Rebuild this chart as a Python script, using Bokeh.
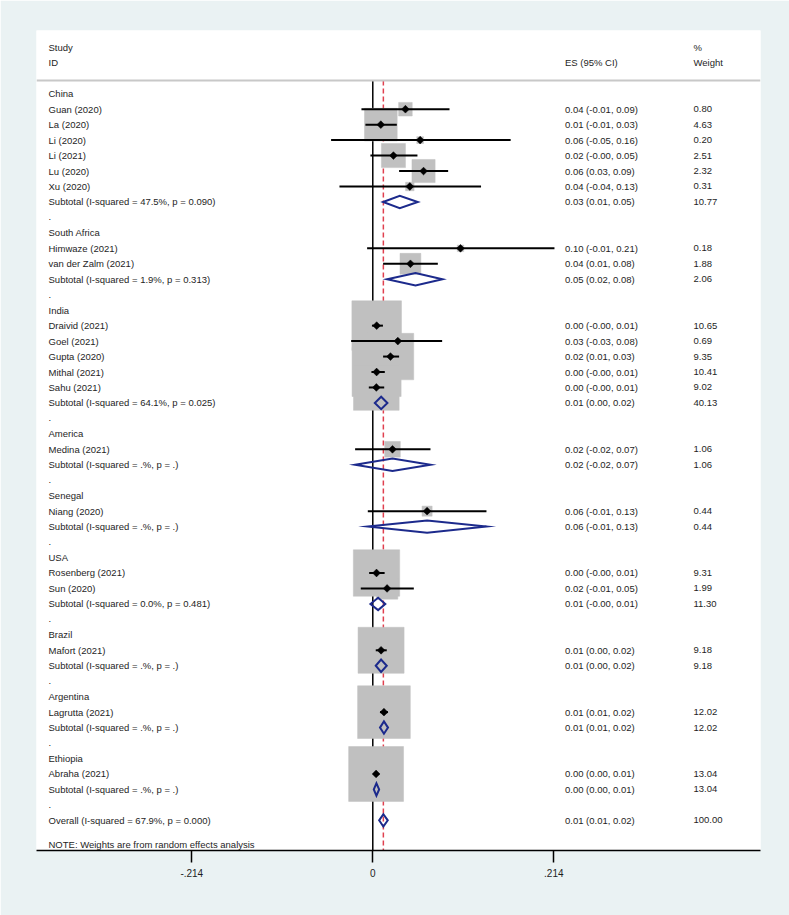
import numpy as np
from bokeh.plotting import figure
from bokeh.models import Range1d, FixedTicker, ColumnDataSource, Span
from bokeh.core.properties import value
from bokeh.embed import file_html
from bokeh.resources import INLINE

FONT = "Liberation Sans"

# ---------------- data ----------------
group_names = ["China", "South Africa", "India", "America", "Senegal",
               "USA", "Brazil", "Argentina", "Ethiopia"]
group_sizes = [6, 2, 5, 1, 1, 2, 1, 1, 1]

study_names = ["Guan (2020)", "La (2020)", "Li (2020)", "Li (2021)", "Lu (2020)", "Xu  (2020)",
               "Himwaze (2021)", "van der Zalm (2021)",
               "Draivid (2021)", "Goel (2021)", "Gupta (2020)", "Mithal (2021)", "Sahu (2021)",
               "Medina (2021)",
               "Niang (2020)",
               "Rosenberg (2021)", "Sun (2020)",
               "Mafort (2021)",
               "Lagrutta (2021)",
               "Abraha (2021)"]
study_es = [0.0386, 0.0095, 0.0560, 0.0244, 0.0600, 0.0438,
            0.1037, 0.0445,
            0.0046, 0.0296, 0.0209, 0.0045, 0.0042,
            0.0233,
            0.0642,
            0.0044, 0.0169,
            0.0098,
            0.0132,
            0.0039]
study_lo = [-0.0134, -0.0087, -0.0493, -0.0028, 0.0311, -0.0394,
            -0.0067, 0.0122,
            -0.0010, -0.0256, 0.0122, -0.0016, -0.0047,
            -0.0209,
            -0.0059,
            -0.0043, -0.0142,
            0.0035,
            0.0085,
            0.0012]
study_hi = [0.0907, 0.0284, 0.1630, 0.0528, 0.0891, 0.1280,
            0.2148, 0.0769,
            0.0120, 0.0820, 0.0311, 0.0142, 0.0135,
            0.0682,
            0.1344,
            0.0140, 0.0485,
            0.0165,
            0.0180,
            0.0075]
study_weight = [0.80, 4.63, 0.20, 2.51, 2.32, 0.31,
                0.18, 1.88,
                10.65, 0.69, 9.35, 10.41, 9.02,
                1.06,
                0.44,
                9.31, 1.99,
                9.18,
                12.02,
                13.04]
study_ci_text = ["0.04 (-0.01, 0.09)", "0.01 (-0.01, 0.03)", "0.06 (-0.05, 0.16)",
                 "0.02 (-0.00, 0.05)", "0.06 (0.03, 0.09)", "0.04 (-0.04, 0.13)",
                 "0.10 (-0.01, 0.21)", "0.04 (0.01, 0.08)",
                 "0.00 (-0.00, 0.01)", "0.03 (-0.03, 0.08)", "0.02 (0.01, 0.03)",
                 "0.00 (-0.00, 0.01)", "0.00 (-0.00, 0.01)",
                 "0.02 (-0.02, 0.07)",
                 "0.06 (-0.01, 0.13)",
                 "0.00 (-0.00, 0.01)", "0.02 (-0.01, 0.05)",
                 "0.01 (0.00, 0.02)",
                 "0.01 (0.01, 0.02)",
                 "0.00 (0.00, 0.01)"]

subtotal_het = ["I-squared = 47.5%, p = 0.090", "I-squared = 1.9%, p = 0.313",
                "I-squared = 64.1%, p = 0.025", "I-squared = .%, p = .",
                "I-squared = .%, p = .", "I-squared = 0.0%, p = 0.481",
                "I-squared = .%, p = .", "I-squared = .%, p = .", "I-squared = .%, p = ."]
subtotal_es = [0.0319, 0.0505, 0.0099, 0.0233, 0.0642, 0.0063, 0.0098, 0.0132, 0.0043]
subtotal_lo = [0.0122, 0.0170, 0.0024, -0.0209, -0.0059, -0.0028, 0.0035, 0.0085, 0.0012]
subtotal_hi = [0.0532, 0.0824, 0.0173, 0.0682, 0.1344, 0.0148, 0.0165, 0.0180, 0.0075]
subtotal_weight = [10.77, 2.06, 40.13, 1.06, 0.44, 11.30, 9.18, 12.02, 13.04]
subtotal_ci_text = ["0.03 (0.01, 0.05)", "0.05 (0.02, 0.08)", "0.01 (0.00, 0.02)",
                    "0.02 (-0.02, 0.07)", "0.06 (-0.01, 0.13)", "0.01 (-0.00, 0.01)",
                    "0.01 (0.00, 0.02)", "0.01 (0.01, 0.02)", "0.00 (0.00, 0.01)"]

overall_het = "I-squared = 67.9%, p = 0.000"
overall_es = 0.0125
overall_lo = 0.0075
overall_hi = 0.0177
overall_weight = 100.00
overall_ci_text = "0.01 (0.01, 0.02)"

x_ticks = [-0.214, 0, 0.214]
x_tick_labels = ["-.214", "0", ".214"]

note_text = "NOTE: Weights are from random effects analysis"

# ---------------- layout (rows) ----------------
BG = "#EAF2F3"
TXT = "#1E1E1E"
X_LABEL, X_ES, X_WT = -0.3834, 0.2272, 0.3792

lab_y, lab_t, es_y, es_t, wt_y, wt_t = [], [], [], [], [], []
st_y, sub_y = [], []
row, k = 0, 0
for gi, (gname, gsize) in enumerate(zip(group_names, group_sizes)):
    lab_y.append(row); lab_t.append(gname)
    for j in range(gsize):
        r = row + 1 + j
        st_y.append(r)
        lab_y.append(r); lab_t.append(study_names[k])
        es_y.append(r); es_t.append(study_ci_text[k])
        wt_y.append(r); wt_t.append(f"{study_weight[k]:.2f}")
        k += 1
    r = row + gsize + 1
    sub_y.append(r)
    lab_y.append(r); lab_t.append(f"Subtotal  ({subtotal_het[gi]})")
    es_y.append(r); es_t.append(subtotal_ci_text[gi])
    wt_y.append(r); wt_t.append(f"{subtotal_weight[gi]:.2f}")
    lab_y.append(r + 1); lab_t.append(".")
    row += gsize + 3
ov_y = row
lab_y.append(ov_y); lab_t.append(f"Overall  ({overall_het})")
es_y.append(ov_y); es_t.append(overall_ci_text)
wt_y.append(ov_y); wt_t.append(f"{overall_weight:.2f}")

Y_TOP, Y_BOT = -4.09, 48.95
SEP = -0.85

p = figure(width=789, height=915, output_backend="svg", toolbar_location=None,
           x_range=Range1d(-0.3976, 0.4584), y_range=Range1d(Y_BOT, Y_TOP),
           y_axis_location=None,
           min_border_left=36, min_border_right=29, min_border_top=30, min_border_bottom=65)
p.background_fill_color = "white"
p.border_fill_color = BG
p.outline_line_color = None
p.xgrid.visible = False
p.ygrid.visible = False

# header separator
p.add_layout(Span(location=SEP, dimension="width", line_color="#C8C8C8", line_width=2))

# null line and overall line
p.segment(x0=[0], y0=[SEP], x1=[0], y1=[Y_BOT], line_color="black", line_width=1.5)
p.segment(x0=[overall_es], y0=[SEP], x1=[overall_es], y1=[Y_BOT],
          line_color="#E0404F", line_width=1.5, line_dash="5 3")

# weight boxes
src = ColumnDataSource(dict(y=st_y, es=study_es, lo=study_lo, hi=study_hi,
                            size=[15.2 * np.sqrt(w) for w in study_weight]))
p.scatter(x="es", y="y", size="size", marker="square", source=src,
          fill_color="#C0C0C0", line_color="#C0C0C0", line_width=0.5)
# CIs
p.segment(x0="lo", y0="y", x1="hi", y1="y", source=src, line_color="black", line_width=2)
# point estimates
p.scatter(x="es", y="y", size=5.5, marker="square", angle=np.pi / 4, source=src,
          fill_color="black", line_color="black", line_width=0.5)

# diamonds
H = 0.4
d_es = subtotal_es + [overall_es]
d_lo = subtotal_lo + [overall_lo]
d_hi = subtotal_hi + [overall_hi]
d_y = sub_y + [ov_y]
xs = [[lo, e, hi, e] for lo, e, hi in zip(d_lo, d_es, d_hi)]
ys = [[y, y - H, y, y + H] for y in d_y]
p.patches(xs=xs, ys=ys, fill_alpha=0, line_color="#1C2A8C", line_width=2, line_join="miter")

# texts
tk = dict(text_font=value(FONT), text_font_size="9.5px", text_baseline="middle",
          text_align="left", text_color=TXT)
p.text(x=[X_LABEL] * len(lab_y), y=lab_y, text=lab_t, **tk)
p.text(x=[X_ES] * len(es_y), y=es_y, text=es_t, **tk)
p.text(x=[X_WT] * len(wt_y), y=wt_y, text=wt_t, **tk)
p.text(x=[X_LABEL, X_LABEL, X_ES, X_WT, X_WT], y=[-3, -2, -2, -3, -2],
       text=["Study", "ID", "ES (95% CI)", "%", "Weight"], **tk)
p.text(x=[X_LABEL], y=[48.56], text=[note_text], **tk)

# axis
ax = p.xaxis[0]
ax.ticker = FixedTicker(ticks=x_ticks)
ax.major_label_overrides = {t: l for t, l in zip(x_ticks, x_tick_labels)}
ax.axis_line_color = "black"
ax.axis_line_width = 1.5
ax.major_tick_line_color = "black"
ax.major_tick_line_width = 1.5
ax.major_tick_out = 12
ax.major_tick_in = 0
ax.minor_tick_out = 0
ax.minor_tick_in = 0
ax.major_label_standoff = 6
ax.major_label_text_font = FONT
ax.major_label_text_font_size = "10px"
ax.major_label_text_color = TXT

open("out.html", "w").write(file_html(p, INLINE))
